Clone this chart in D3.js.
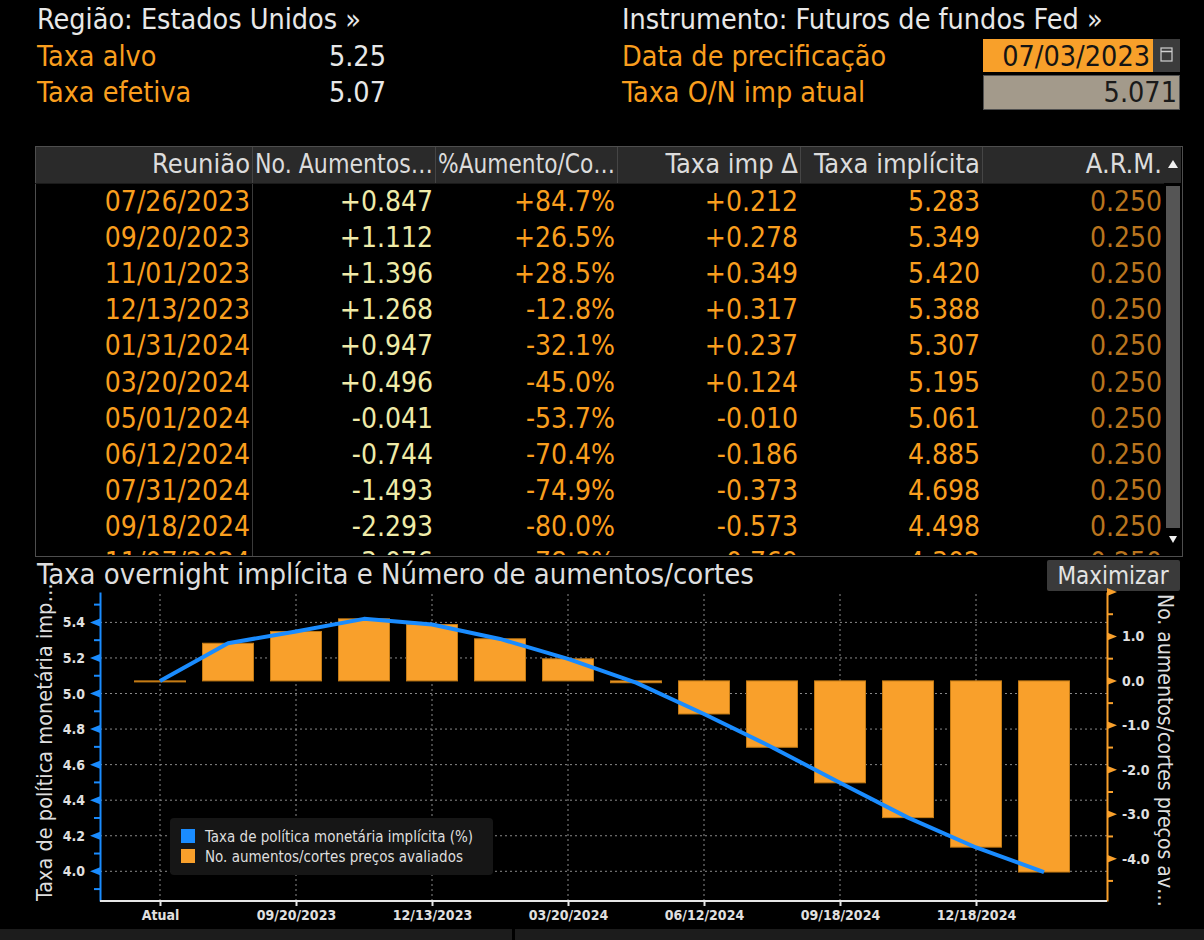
<!DOCTYPE html>
<html>
<head>
<meta charset="utf-8">
<script src="https://d3js.org/d3.v7.min.js"></script>
<style>
  body { margin: 0; background: #000; }
  svg { display: block; background: #000; }
  text { font-family: "DejaVu Sans Condensed", "DejaVu Sans", sans-serif; font-stretch: condensed; }
  .grid line { stroke: #8a8a8a; stroke-dasharray: 2,3; }
</style>
</head>
<body>
<svg id="chart"></svg>
<script>
  // ---- data ----
  const headerLeft = [["Taxa alvo", "5.25"], ["Taxa efetiva", "5.07"]];
  const pricingDate = "07/03/2023";
  const currentRate = 5.071;

  const columns = ["Reunião", "No. Aumentos…", "%Aumento/Co…", "Taxa imp Δ", "Taxa implícita", "A.R.M."];
  const meetings = ["07/26/2023", "09/20/2023", "11/01/2023", "12/13/2023", "01/31/2024", "03/20/2024",
    "05/01/2024", "06/12/2024", "07/31/2024", "09/18/2024", "11/07/2024"];
  const hikes = [0.847, 1.112, 1.396, 1.268, 0.947, 0.496, -0.041, -0.744, -1.493, -2.293, -3.076];
  const pctHike = [84.7, 26.5, 28.5, -12.8, -32.1, -45.0, -53.7, -70.4, -74.9, -80.0, -78.3];
  const rateDelta = [0.212, 0.278, 0.349, 0.317, 0.237, 0.124, -0.010, -0.186, -0.373, -0.573, -0.769];
  const impliedRate = [5.283, 5.349, 5.420, 5.388, 5.307, 5.195, 5.061, 4.885, 4.698, 4.498, 4.302];
  const arm = [0.250, 0.250, 0.250, 0.250, 0.250, 0.250, 0.250, 0.250, 0.250, 0.250, 0.250];

  // chart series (Atual + meetings)
  const chartDates = ["Atual", "07/26/2023", "09/20/2023", "11/01/2023", "12/13/2023", "01/31/2024", "03/20/2024",
    "05/01/2024", "06/12/2024", "07/31/2024", "09/18/2024", "11/07/2024", "12/18/2024", "01/29/2025"];
  const chartRates = [5.071, 5.283, 5.349, 5.420, 5.388, 5.307, 5.195, 5.061, 4.885, 4.698, 4.498, 4.302, 4.134, 3.996];
  const chartHikes = [0, 0.847, 1.112, 1.396, 1.268, 0.947, 0.496, -0.041, -0.744, -1.493, -2.293, -3.076, -3.74, -4.30];
  const xLabels = ["Atual", "09/20/2023", "12/13/2023", "03/20/2024", "06/12/2024", "09/18/2024", "12/18/2024"];
  const leftTicks = [4.0, 4.2, 4.4, 4.6, 4.8, 5.0, 5.2, 5.4];
  const leftMinor = [3.9, 4.1, 4.3, 4.5, 4.7, 4.9, 5.1, 5.3, 5.5];
  const rightTicks = [-4, -3, -2, -1, 0, 1];
  const rightMinor = [-4.5, -3.5, -2.5, -1.5, -0.5, 0.5, 1.5];
  const legendItems = [["Taxa de política monetária implícita (%)", "#1a8cff"], ["No. aumentos/cortes preços avaliados", "#f9a02b"]];

  const W = 1204, H = 940;
  const WHITE = "#e8e8e8", ORANGE = "#f99e1e", BLUE = "#1a8cff", BAR = "#f9a02b";

  const svg = d3.select("#chart").attr("width", W).attr("height", H);

  // terminal style uses a plain hyphen for negatives
  const hy = f => v => f(v).replace("−", "-");

  function txt(g, x, y, s, color, size, anchor) {
    return g.append("text").attr("x", x).attr("y", y).text(s)
      .attr("fill", color).style("font-size", size + "px")
      .attr("text-anchor", anchor || "start");
  }

  // ---- top header ----
  const head = svg.append("g");
  txt(head, 37, 29, "Região: Estados Unidos »", WHITE, 28.5);
  headerLeft.forEach((d, i) => {
    txt(head, 37, 66 + i * 36, d[0], ORANGE, 28.5);
    txt(head, 386, 66 + i * 36, d[1], WHITE, 28.5, "end");
  });
  txt(head, 622, 29, "Instrumento: Futuros de fundos Fed »", WHITE, 28.5);
  txt(head, 622, 66, "Data de precificação", ORANGE, 28.5);
  txt(head, 622, 102, "Taxa O/N imp atual", ORANGE, 28.5);

  head.append("rect").attr("x", 983).attr("y", 39).attr("width", 170).attr("height", 33).attr("fill", "#f8a02a");
  txt(head, 1150, 66, pricingDate, "#141414", 28.5, "end");
  head.append("rect").attr("x", 1153).attr("y", 39).attr("width", 27).attr("height", 33).attr("fill", "#3c3c3c");
  head.append("rect").attr("x", 1161).attr("y", 48).attr("width", 11).attr("height", 13)
    .attr("fill", "none").attr("stroke", "#d0d0d0").attr("stroke-width", 1.2);
  head.append("line").attr("x1", 1161).attr("x2", 1172).attr("y1", 51.5).attr("y2", 51.5)
    .attr("stroke", "#d0d0d0").attr("stroke-width", 1.5);
  head.append("rect").attr("x", 983.5).attr("y", 75.5).attr("width", 196).attr("height", 34)
    .attr("fill", "#a39a8b").attr("stroke", "#505050");
  txt(head, 1177, 102, d3.format(".3f")(currentRate), "#1a1a1a", 28.5, "end");

  // ---- table ----
  const tb = { x: 35, y: 146, w: 1147, h: 410, headH: 37, rowH: 36.1 };
  const colRight = [252, 435, 617, 800, 982, 1164];
  const table = svg.append("g");
  table.append("rect").attr("x", tb.x + 0.5).attr("y", tb.y + 0.5).attr("width", tb.w).attr("height", tb.h)
    .attr("fill", "#000").attr("stroke", "#4e4e4e");
  table.append("rect").attr("x", tb.x + 1).attr("y", tb.y + 1).attr("width", 1128).attr("height", tb.headH - 1)
    .attr("fill", "#2a2a2a");
  table.selectAll("line.hsep").data(colRight.slice(0, 5)).join("line").attr("class", "hsep")
    .attr("x1", d => d + 0.5).attr("x2", d => d + 0.5).attr("y1", tb.y + 1).attr("y2", tb.y + tb.headH)
    .attr("stroke", "#454545");
  table.append("line").attr("x1", 252.5).attr("x2", 252.5).attr("y1", tb.y + tb.headH).attr("y2", tb.y + tb.h)
    .attr("stroke", "#3a3a3a");
  table.append("line").attr("x1", tb.x).attr("x2", 1164).attr("y1", tb.y + tb.headH + 0.5).attr("y2", tb.y + tb.headH + 0.5)
    .attr("stroke", "#1a1a1a");
  columns.forEach((c, i) => {
    const t = txt(table, colRight[i] - 2, 173, c, "#dcdcdc", 27, "end");
    // truncated headers fill their whole cell, as on the terminal
    if (c.endsWith("…")) t.attr("textLength", colRight[i] - colRight[i - 1] - 5).attr("lengthAdjust", "spacingAndGlyphs");
  });

  // scrollbar
  table.append("rect").attr("x", 1164).attr("y", tb.y + 1).attr("width", 17).attr("height", tb.headH - 1).attr("fill", "#2a2a2a");
  table.append("rect").attr("x", 1166).attr("y", 186).attr("width", 14).attr("height", 342).attr("fill", "#555");
  table.append("path").attr("d", "M1168,168L1173,160L1178,168Z").attr("fill", "#f0f0f0");
  table.append("path").attr("d", "M1169,536L1173,543L1177,536Z").attr("fill", "#f0f0f0");

  svg.append("defs").append("clipPath").attr("id", "rowsClip")
    .append("rect").attr("x", tb.x).attr("y", tb.y + tb.headH).attr("width", 1129).attr("height", tb.h - tb.headH - 1);
  const body = table.append("g").attr("clip-path", "url(#rowsClip)");
  const sign = hy(d3.format("+.3f")), pct = hy(d3.format("+.1f")), f3 = d3.format(".3f");
  const cells = meetings.map((m, i) => [
    [m, ORANGE], [sign(hikes[i]), "#efeba8"], [pct(pctHike[i]) + "%", ORANGE],
    [sign(rateDelta[i]), ORANGE], [f3(impliedRate[i]), ORANGE], [f3(arm[i]), "#b8741e"]
  ]);
  cells.forEach((row, i) => {
    const y = tb.y + tb.headH + 28 + i * tb.rowH;
    row.forEach((c, j) => txt(body, colRight[j] - 2, y, c[0], c[1], 28, "end"));
  });

  // ---- chart ----
  txt(svg, 37, 584, "Taxa overnight implícita e Número de aumentos/cortes", "#dedede", 29);
  svg.append("rect").attr("x", 1047).attr("y", 560).attr("width", 133).attr("height", 31).attr("rx", 2).attr("fill", "#3a3a3a");
  txt(svg, 1113, 584, "Maximizar", "#e4e4e4", 24, "middle");

  const plot = { left: 100, right: 1107, top: 592, bottom: 901 };
  const x = d3.scalePoint().domain(chartDates).range([plot.left + 60, plot.right - 63]);
  const yL = d3.scaleLinear().domain([3.833, currentRate + 0.5]).range([plot.bottom, plot.top]);
  const yR = d3.scaleLinear().domain([(3.833 - currentRate) / 0.25, 2]).range([plot.bottom, plot.top]);
  const barW = x.step() * 0.75;

  // gridlines
  const grid = svg.append("g").attr("class", "grid");
  grid.selectAll("line.h").data(leftTicks).join("line").attr("class", "h")
    .attr("x1", plot.left).attr("x2", plot.right).attr("y1", d => yL(d)).attr("y2", d => yL(d));
  grid.selectAll("line.v").data(xLabels).join("line").attr("class", "v")
    .attr("x1", d => x(d)).attr("x2", d => x(d)).attr("y1", plot.top + 2).attr("y2", plot.bottom);

  // bars
  svg.append("g").selectAll("rect").data(chartDates).join("rect")
    .attr("x", d => x(d) - barW / 2)
    .attr("width", barW)
    .attr("y", (d, i) => Math.min(yR(chartHikes[i]), yR(0)))
    .attr("height", (d, i) => Math.max(1, Math.abs(yR(chartHikes[i]) - yR(0))))
    .attr("fill", BAR).attr("stroke", "#c47b15").attr("stroke-width", 1);

  // implied rate line
  svg.append("path").datum(chartDates)
    .attr("d", d3.line().x(d => x(d)).y((d, i) => yL(chartRates[i])))
    .attr("fill", "none").attr("stroke", BLUE).attr("stroke-width", 4).attr("stroke-linejoin", "round");

  // left axis
  const axL = svg.append("g").attr("transform", `translate(${plot.left},0)`)
    .call(d3.axisLeft(yL).tickValues(leftTicks).tickSize(0).tickPadding(15).tickFormat(d3.format(".1f")));
  axL.select(".domain").attr("stroke", BLUE).attr("stroke-width", 2);
  axL.selectAll(".tick text").attr("fill", "#e0e0e0").style("font-size", "14px").style("font-weight", "bold");
  axL.selectAll("path.tri").data(leftTicks).join("path").attr("class", "tri")
    .attr("d", d => `M0,${yL(d) - 4}L-10,${yL(d)}L0,${yL(d) + 4}Z`).attr("fill", BLUE);
  axL.selectAll("line.minor").data(leftMinor).join("line").attr("class", "minor")
    .attr("x1", -6).attr("x2", 0).attr("y1", d => yL(d)).attr("y2", d => yL(d))
    .attr("stroke", BLUE).attr("stroke-width", 2);

  // right axis
  const axR = svg.append("g").attr("transform", `translate(${plot.right},0)`)
    .call(d3.axisRight(yR).tickValues(rightTicks).tickSize(0).tickPadding(15).tickFormat(hy(d3.format(".1f"))));
  axR.select(".domain").attr("stroke", BAR).attr("stroke-width", 2);
  axR.selectAll(".tick text").attr("fill", "#e0e0e0").style("font-size", "14px").style("font-weight", "bold");
  axR.selectAll("path.tri").data(rightTicks.concat([2])).join("path").attr("class", "tri")
    .attr("d", d => `M0,${yR(d) - 4}L10,${yR(d)}L0,${yR(d) + 4}Z`).attr("fill", BAR);
  axR.selectAll("line.minor").data(rightMinor).join("line").attr("class", "minor")
    .attr("x1", 0).attr("x2", 6).attr("y1", d => yR(d)).attr("y2", d => yR(d))
    .attr("stroke", BAR).attr("stroke-width", 2);

  // x axis
  const axX = svg.append("g").attr("transform", `translate(0,${plot.bottom})`)
    .call(d3.axisBottom(x).tickValues(xLabels).tickSize(5).tickPadding(4));
  axX.select(".domain").remove();
  axX.append("line").attr("x1", plot.left).attr("x2", plot.right).attr("stroke", "#e6e6e6").attr("stroke-width", 2);
  axX.selectAll(".tick line").attr("stroke", "#e6e6e6").attr("stroke-width", 2);
  axX.selectAll(".tick text").attr("fill", "#e0e0e0").style("font-size", "14px").style("font-weight", "bold");

  // axis titles
  txt(svg, 0, 0, "Taxa de política monetária imp…", "#dedede", 21.5)
    .attr("transform", `translate(52,${plot.bottom}) rotate(-90)`);
  txt(svg, 0, 0, "No. aumentos/cortes preços av…", "#dedede", 21)
    .attr("transform", `translate(1158,${plot.top + 2}) rotate(90)`);

  // legend
  const lg = svg.append("g");
  lg.append("rect").attr("x", 170).attr("y", 818).attr("width", 323).attr("height", 57).attr("rx", 4).attr("fill", "#161616");
  legendItems.forEach((d, i) => {
    lg.append("rect").attr("x", 181).attr("y", 829 + i * 20).attr("width", 14).attr("height", 14).attr("fill", d[1]);
    txt(lg, 205, 842 + i * 20, d[0], "#dedede", 15);
  });

  // bottom strip
  svg.append("rect").attr("x", 0).attr("y", 929).attr("width", 512).attr("height", 11).attr("fill", "#1c1c1c");
  svg.append("rect").attr("x", 515).attr("y", 929).attr("width", 689).attr("height", 11).attr("fill", "#1c1c1c");
</script>
</body>
</html>
